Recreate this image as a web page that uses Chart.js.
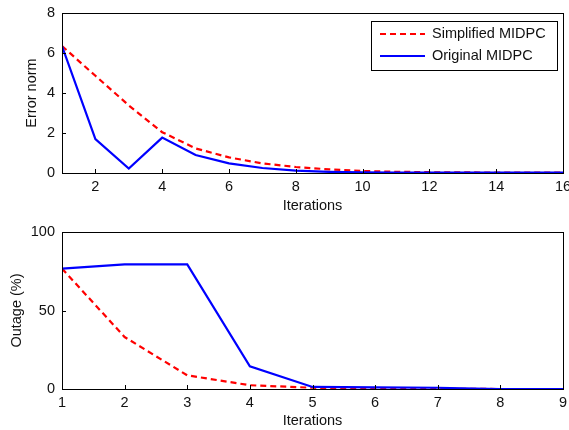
<!DOCTYPE html>
<html>
<head>
<meta charset="utf-8">
<script src="https://cdn.jsdelivr.net/npm/chart.js@4.4.1/dist/chart.umd.min.js"></script>
<style>
  body { margin: 0; background: #fff; }
  #wrap { position: relative; width: 569px; height: 430px; }
  canvas { position: absolute; left: 0; }
</style>
</head>
<body>
<div id="wrap">
  <canvas id="errChart" width="569" height="215" style="top:0"></canvas>
  <canvas id="outChart" width="569" height="215" style="top:215px"></canvas>
</div>
<script>
// top panel: error norm per iteration
const iterTop = [1, 2, 3, 4, 5, 6, 7, 8, 9, 10, 11, 12, 13, 14, 15, 16];
const simplifiedErr = [6.35, 4.86, 3.38, 2.04, 1.23, 0.78, 0.48, 0.3, 0.18, 0.1, 0.06, 0.04, 0.03, 0.02, 0.02, 0.02];
const originalErr = [6.35, 1.69, 0.22, 1.77, 0.9, 0.48, 0.25, 0.12, 0.06, 0.03, 0.02, 0.02, 0.02, 0.02, 0.02, 0.02];
const xTicksTop = [2, 4, 6, 8, 10, 12, 14, 16];
const yTicksTop = [0, 2, 4, 6, 8];

// bottom panel: outage percentage
const iterBottom = [1, 2, 3, 4, 5, 6, 7, 8, 9];
const simplifiedOut = [76.7, 33.1, 8.7, 2.4, 0.8, 0.4, 0.2, 0, 0];
const originalOut = [76.7, 79.4, 79.4, 14.5, 1.3, 1.0, 0.8, 0, 0];
const xTicksBottom = [1, 2, 3, 4, 5, 6, 7, 8, 9];
const yTicksBottom = [0, 50, 100];

const seriesNames = ['Simplified MIDPC', 'Original MIDPC'];

const FONT = { family: "'Liberation Sans', Arial, sans-serif", size: 14.5 };
const TXT = '#111';

const toPoints = (xs, ys) => xs.map((x, i) => ({ x: x, y: ys[i] }));

// matlab-like box with small inward tick marks on left and bottom
const framePlugin = {
    id: 'frame',
    afterDatasetsDraw(chart) {
        const { ctx, chartArea: a, scales } = chart;
        ctx.save();
        ctx.strokeStyle = '#000';
        ctx.lineWidth = 1;
        ctx.strokeRect(Math.round(a.left) + 0.5, Math.round(a.top) + 0.5,
            Math.round(a.right - a.left), Math.round(a.bottom - a.top));
        ctx.beginPath();
        scales.x.ticks.forEach(t => {
            const px = Math.round(scales.x.getPixelForValue(t.value)) + 0.5;
            ctx.moveTo(px, a.bottom); ctx.lineTo(px, a.bottom - 4);
        });
        scales.y.ticks.forEach(t => {
            const py = Math.round(scales.y.getPixelForValue(t.value)) + 0.5;
            ctx.moveTo(a.left, py); ctx.lineTo(a.left + 4, py);
        });
        ctx.stroke();
        ctx.restore();
    }
};

// legend box inside the top panel
const boxLegend = {
    id: 'boxLegend',
    afterDraw(chart, args, opts) {
        if (!opts.show) return;
        const { ctx, chartArea: a } = chart;
        const w = 186, h = 49;
        const left = a.right - 6 - w, top = a.top + 8;
        ctx.save();
        ctx.fillStyle = '#fff';
        ctx.fillRect(left, top, w, h);
        ctx.strokeStyle = '#000';
        ctx.lineWidth = 1;
        ctx.strokeRect(left + 0.5, top + 0.5, w, h);
        ctx.font = FONT.size + 'px ' + FONT.family;
        ctx.textBaseline = 'middle';
        chart.data.datasets.forEach((ds, i) => {
            const y = top + 13 + i * 22;
            ctx.beginPath();
            ctx.strokeStyle = ds.borderColor;
            ctx.lineWidth = ds.borderWidth;
            ctx.setLineDash(ds.borderDash || []);
            ctx.moveTo(left + 9, y);
            ctx.lineTo(left + 54, y);
            ctx.stroke();
            ctx.setLineDash([]);
            ctx.fillStyle = TXT;
            ctx.fillText(ds.label, left + 61, y);
        });
        ctx.restore();
    }
};

function makeDatasets(xs, red, blue) {
    return [
        {
            label: seriesNames[0],
            data: toPoints(xs, red),
            borderColor: '#ff0000',
            borderWidth: 2.2,
            borderDash: [6, 4],
            pointRadius: 0,
            fill: false,
            order: 1
        },
        {
            label: seriesNames[1],
            data: toPoints(xs, blue),
            borderColor: '#0000ff',
            borderWidth: 2.2,
            pointRadius: 0,
            fill: false,
            order: 0
        }
    ];
}

function makeConfig(opt) {
    return {
        type: 'line',
        data: { datasets: makeDatasets(opt.xs, opt.red, opt.blue) },
        options: {
            responsive: false,
            animation: false,
            layout: { padding: { left: opt.padLeft, right: 6, top: opt.padTop, bottom: 0 } },
            scales: {
                x: {
                    type: 'linear',
                    min: opt.xMin,
                    max: opt.xMax,
                    afterBuildTicks: s => { s.ticks = opt.xTicks.map(v => ({ value: v })); },
                    afterFit: s => { s.height = opt.xHeight; s.paddingLeft = 0; s.paddingRight = 0; },
                    grid: { display: false, drawTicks: false },
                    border: { display: false },
                    ticks: { font: FONT, color: TXT, padding: 5, maxRotation: 0, autoSkip: false },
                    title: { display: true, text: 'Iterations', font: FONT, color: TXT, padding: { top: 0, bottom: 0 } }
                },
                y: {
                    type: 'linear',
                    min: opt.yMin,
                    max: opt.yMax,
                    afterBuildTicks: s => { s.ticks = opt.yTicks.map(v => ({ value: v })); },
                    afterFit: s => { s.width = opt.yWidth; s.paddingTop = 0; s.paddingBottom = 0; },
                    grid: { display: false, drawTicks: false },
                    border: { display: false },
                    ticks: { font: FONT, color: TXT, padding: 7 },
                    title: { display: true, text: opt.yTitle, font: FONT, color: TXT, padding: { top: 3, bottom: 0 } }
                }
            },
            plugins: {
                legend: { display: false },
                tooltip: { enabled: false },
                boxLegend: { show: opt.legend }
            }
        },
        plugins: [framePlugin, boxLegend]
    };
}

new Chart(document.getElementById('errChart'), makeConfig({
    xs: iterTop, red: simplifiedErr, blue: originalErr,
    xMin: 1, xMax: 16, xTicks: xTicksTop,
    yMin: 0, yMax: 8, yTicks: yTicksTop,
    yTitle: 'Error norm',
    padLeft: 20, yWidth: 42, padTop: 13, xHeight: 42,
    legend: true
}));

new Chart(document.getElementById('outChart'), makeConfig({
    xs: iterBottom, red: simplifiedOut, blue: originalOut,
    xMin: 1, xMax: 9, xTicks: xTicksBottom,
    yMin: 0, yMax: 100, yTicks: yTicksBottom,
    yTitle: 'Outage (%)',
    padLeft: 5, yWidth: 57, padTop: 17, xHeight: 41,
    legend: false
}));
</script>
</body>
</html>
